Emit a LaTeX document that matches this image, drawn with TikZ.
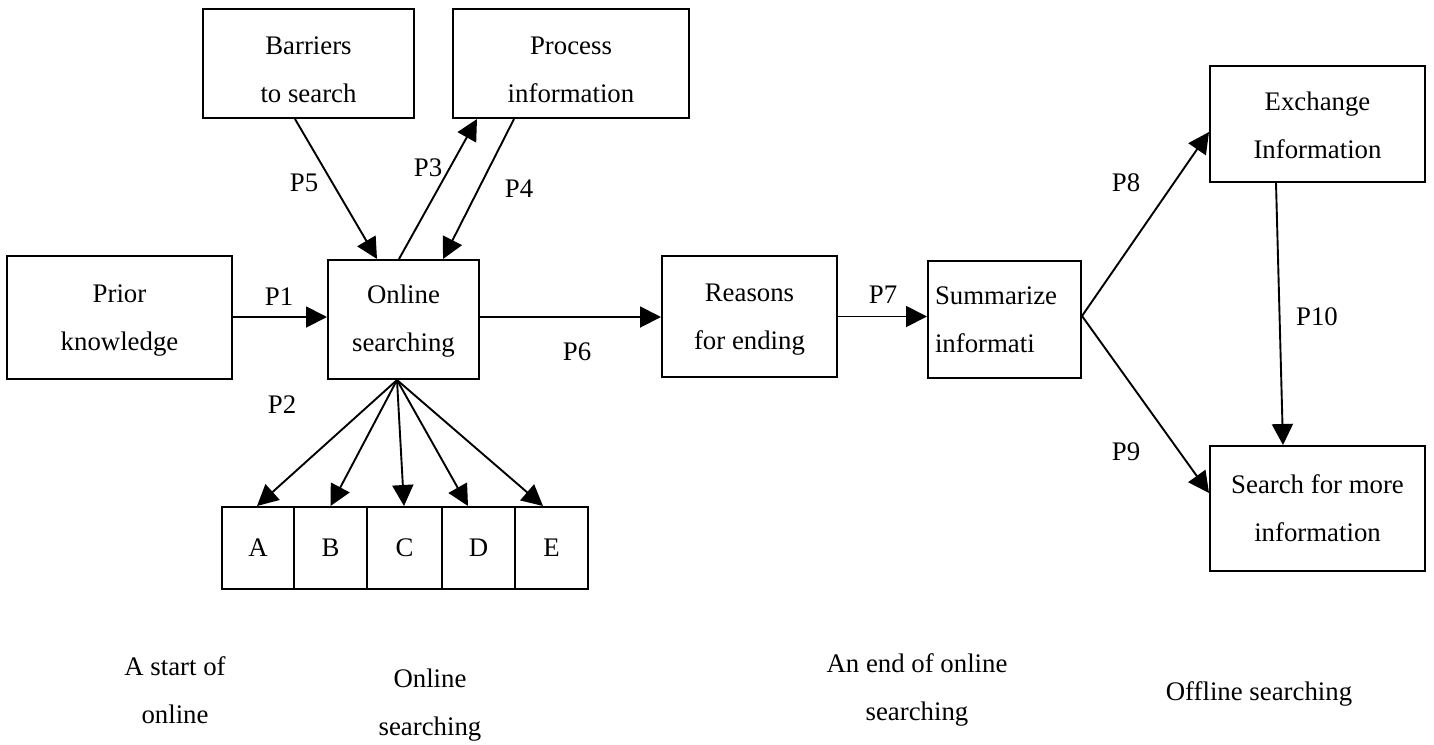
\documentclass[tikz,border=0pt]{standalone}
\usepackage{fontspec}
\setmainfont{Liberation Serif}
\usetikzlibrary{arrows.meta}
\begin{document}
\begin{tikzpicture}[x=0.5pt,y=-0.5pt,
  every node/.style={font=\fontsize{13.4}{24}\selectfont},
  box/.style={draw,line width=1pt,inner sep=0pt,align=center},
  lbl/.style={inner sep=0pt},
  arr/.style={line width=0.95pt,-{Triangle[length=10.5pt,width=10.5pt]}}]
\useasboundingbox (0,0) rectangle (1434,744);
% boxes
\node[box,minimum width=105.5pt,minimum height=54.5pt] (bar) at (308.5,63.5) {\rule{0pt}{15pt}Barriers\\to search};
\node[box,minimum width=118pt,minimum height=54.5pt] (proc) at (571,63.5) {\rule{0pt}{15pt}Process\\information};
\node[box,minimum width=107.5pt,minimum height=58pt] (exch) at (1317.5,124) {\rule{0pt}{11pt}Exchange\\Information};
\node[box,minimum width=112.5pt,minimum height=61.5pt] (prior) at (119.5,317.5) {\rule{0pt}{12pt}Prior\\knowledge};
\node[box,minimum width=75.5pt,minimum height=59.5pt] (on) at (403.5,319.5) {\rule{0pt}{11pt}Online\\searching};
\node[box,minimum width=87.5pt,minimum height=60.5pt] (reas) at (749.5,316.5) {\rule{0pt}{12pt}Reasons\\for ending};
\node[box,minimum width=76.5pt,minimum height=58.5pt,inner xsep=3.5pt,text width=69.5pt,align=left] (summ) at (1004.5,319.5) {Summarize\\informati};
\node[box,minimum width=107.5pt,minimum height=62.5pt] (search) at (1317.5,508.5) {Search for more\\information};
\node[box,minimum width=36pt,minimum height=41pt] (A) at (258,548) {A};
\node[box,minimum width=36.5pt,minimum height=41pt] (B) at (330.5,548) {B};
\node[box,minimum width=37.5pt,minimum height=41pt] (C) at (404.5,548) {C};
\node[box,minimum width=36.5pt,minimum height=41pt] (D) at (478.5,548) {D};
\node[box,minimum width=36.5pt,minimum height=41pt] (E) at (551.5,548) {E};
% connectors
\draw[arr] ([shift={(-13.5,0)}]bar.south) -- ([shift={(-26.5,0)}]on.north);
\draw[arr] ([shift={(-4.5,0)}]on.north) -- ([shift={(-94,0)}]proc.south);
\draw[arr] ([shift={(-57,0)}]proc.south) -- ([shift={(39.5,0)}]on.north);
\draw[arr] ([shift={(0,-0.5)}]prior.east) -- ([shift={(0,-0.5)}]prior.east -| on.west);
\draw[arr] ([shift={(0,-2.5)}]on.east) -- ([shift={(0,-2.5)}]on.east -| reas.west);
\draw[arr] (reas.east) -- (reas.east -| summ.west);
\draw[arr] ([shift={(-6.5,0)}]on.south) -- ([shift={(-1,0)}]A.north);
\draw[arr] ([shift={(-6.5,0)}]on.south) -- (B.north);
\draw[arr] ([shift={(-6.5,0)}]on.south) -- ([shift={(-0.5,0)}]C.north);
\draw[arr] ([shift={(-6.5,0)}]on.south) -- ([shift={(-10.5,0)}]D.north);
\draw[arr] ([shift={(-6.5,0)}]on.south) -- ([shift={(-8.5,0)}]E.north);
\draw[arr] ([shift={(0,-3.5)}]summ.east) -- ([shift={(0,8)}]exch.west);
\draw[arr] ([shift={(0,-3.5)}]summ.east) -- ([shift={(0,-15.5)}]search.west);
\draw[arr] ([shift={(-41.5,0)}]exch.south) -- ([shift={(-34.5,0)}]search.north);
% connector labels
\node[lbl] (p1) at (279,297) {P1};
\node[lbl] (p2) at (282,405) {P2};
\node[lbl] (p3) at (428,168) {P3};
\node[lbl] (p4) at (519,189) {P4};
\node[lbl] (p5) at (304,183) {P5};
\node[lbl] (p6) at (577,352) {P6};
\node[lbl] (p7) at (883,295) {P7};
\node[lbl] (p8) at (1126,183) {P8};
\node[lbl] (p9) at (1126,452) {P9};
\node[lbl] (p10) at (1317,317) {P10};
% stage labels
\node[lbl,align=center] (s1) at (175,690) {A start of\\online};
\node[lbl,align=center] (s2) at (430,705) {Online\\searching};
\node[lbl,align=center] (s3) at (917,690) {An end of online\\searching};
\node[lbl] (s4) at (1259,694) {Offline searching};
\end{tikzpicture}
\end{document}
